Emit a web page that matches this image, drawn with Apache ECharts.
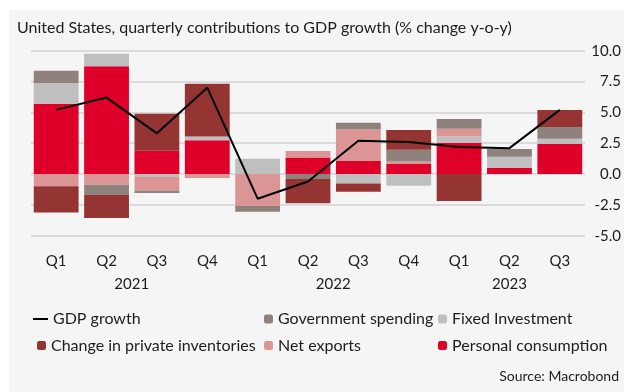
<!DOCTYPE html>
<html>
<head>
<meta charset="utf-8">
<script src="https://cdn.jsdelivr.net/npm/echarts@6/dist/echarts.min.js"></script>
<style>
  html, body { margin: 0; padding: 0; background: #ffffff; }
  #chart { width: 624px; height: 392px; }
</style>
</head>
<body>
<div id="chart"></div>
<script>
// Quarter and year of each column
const quarters = ['Q1', 'Q2', 'Q3', 'Q4', 'Q1', 'Q2', 'Q3', 'Q4', 'Q1', 'Q2', 'Q3'];
const years = ['2021', '2021', '2021', '2021', '2022', '2022', '2022', '2022', '2023', '2023', '2023'];

// Contributions, percentage points
const personalConsumption = [5.70, 8.73, 1.89, 2.73, 0.00, 1.35, 1.05, 0.81, 2.51, 0.51, 2.46];
const fixedInvestment     = [1.68, 1.03, -0.24, 0.32, 1.24, 0.00, -0.76, -0.95, 0.54, 0.89, 0.40];
const netExports          = [-1.00, -0.87, -1.09, -0.32, -2.60, 0.51, 2.57, 0.20, 0.62, 0.00, 0.00];
const governmentSpending  = [1.00, -0.81, -0.21, 0.00, -0.45, -0.40, 0.54, 0.95, 0.79, 0.62, 0.95];
const privateInventories  = [-2.11, -1.89, 3.00, 4.27, 0.00, -1.97, -0.68, 1.62, -2.19, 0.00, 1.38];
const gdpGrowth           = [5.2, 6.2, 3.3, 7.0, -2.0, -0.6, 2.7, 2.6, 2.2, 2.1, 5.2];

// Value-axis ticks
const yTicks = { min: -5, max: 10, step: 2.5 };

const FONT = 'Lato';
const TEXT = '#1d1d1b';

// Year labels sit in the middle of the quarters belonging to each year
const yearCentres = {};
(function () {
  let start = 0;
  for (let i = 1; i <= years.length; i++) {
    if (i === years.length || years[i] !== years[start]) {
      yearCentres[((start + i) / 2).toFixed(1)] = years[start];
      start = i;
    }
  }
})();

const colors = {
  pc: '#de0029',
  fi: '#bfbfbf',
  nx: '#db9595',
  gov: '#8f817b',
  inv: '#943533',
  gdp: '#000000'
};

function barSeries(name, data, color) {
  return {
    name: name,
    type: 'bar',
    stack: 'total',
    data: data,
    barCategoryGap: '11%',
    itemStyle: { color: color },
    emphasis: { disabled: true },
    animation: false
  };
}

const legendText = { fontFamily: FONT, fontSize: 16, color: TEXT };

// One legend entry per slot of the 3 x 2 key
function legendEntry(item, left, top, w, h) {
  return {
    data: [item],
    left: left, top: top,
    padding: 0,
    itemWidth: w, itemHeight: h,
    textStyle: legendText,
    selectedMode: false
  };
}

const chart = echarts.init(document.getElementById('chart'), null, { renderer: 'canvas' });

chart.setOption({
  backgroundColor: '#ffffff',
  animation: false,
  textStyle: { fontFamily: FONT, color: TEXT },
  graphic: [{
    type: 'rect',
    z: -10,
    silent: true,
    shape: { x: 9, y: 10, width: 615, height: 382 },
    style: { fill: '#f5f5f5' }
  }],
  title: [{
    text: 'United States, quarterly contributions to GDP growth (% change y-o-y)',
    left: 17,
    top: 20,
    padding: 0,
    textStyle: { fontFamily: FONT, fontSize: 16, fontWeight: 'normal', color: TEXT }
  }, {
    text: 'Source: Macrobond',
    right: 5,
    top: 369,
    padding: 0,
    textStyle: { fontFamily: FONT, fontSize: 14, fontWeight: 'normal', color: TEXT }
  }],
  grid: { left: 31, right: 38, top: 50.7, bottom: 156.3, containLabel: false },
  legend: [
    legendEntry({ name: 'GDP growth', icon: 'rect' }, 33, 311, 15, 2),
    legendEntry('Change in private inventories', 37, 337.5, 9, 9),
    legendEntry('Government spending', 264, 311, 9, 9),
    legendEntry('Net exports', 264, 337.5, 9, 9),
    legendEntry('Fixed Investment', 438, 311, 9, 9),
    legendEntry('Personal consumption', 438, 337.5, 9, 9)
  ],
  xAxis: [{
    type: 'category',
    data: quarters,
    axisLine: { show: false },
    axisTick: { show: false },
    splitLine: { show: false },
    axisLabel: { margin: 18, fontFamily: FONT, fontSize: 15, color: TEXT, interval: 0 }
  }, {
    type: 'value',
    position: 'bottom',
    min: 0,
    max: quarters.length,
    interval: 0.5,
    axisLine: { show: false },
    axisTick: { show: false },
    splitLine: { show: false },
    axisLabel: {
      margin: 41,
      fontFamily: FONT, fontSize: 15, color: TEXT,
      showMinLabel: true, showMaxLabel: true,
      formatter: function (v) { return yearCentres[v.toFixed(1)] || ''; }
    }
  }],
  yAxis: {
    type: 'value',
    position: 'right',
    min: yTicks.min,
    max: yTicks.max,
    interval: yTicks.step,
    axisLine: { show: false },
    axisTick: { show: false },
    splitLine: { lineStyle: { color: '#d2d2d2', width: 1.5 } },
    axisLabel: {
      align: 'right',
      margin: 36,
      fontFamily: FONT, fontSize: 15, color: TEXT,
      formatter: function (v) { return v.toFixed(1); }
    }
  },
  series: [
    barSeries('Personal consumption', personalConsumption, colors.pc),
    barSeries('Fixed Investment', fixedInvestment, colors.fi),
    barSeries('Net exports', netExports, colors.nx),
    barSeries('Government spending', governmentSpending, colors.gov),
    barSeries('Change in private inventories', privateInventories, colors.inv),
    {
      name: 'GDP growth',
      type: 'line',
      data: gdpGrowth,
      symbol: 'none',
      z: 5,
      itemStyle: { color: colors.gdp },
      lineStyle: { color: colors.gdp, width: 2 },
      emphasis: { disabled: true },
      animation: false
    }
  ]
});
</script>
</body>
</html>
